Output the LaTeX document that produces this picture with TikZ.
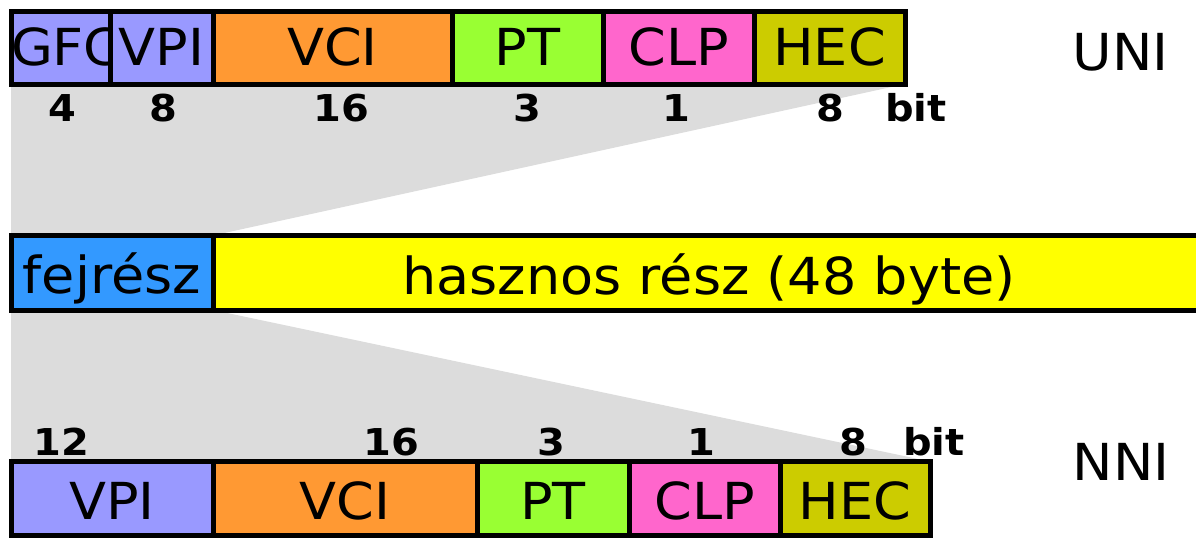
\documentclass[tikz,border=0pt]{standalone}
\usepackage{fontspec}
\setmainfont{DejaVu Sans}[FakeStretch=1.06]
\newfontfamily\numfont{DejaVu Sans}[FakeStretch=1.08]
\usetikzlibrary{backgrounds}
\definecolor{cGFC}{HTML}{9999FF}
\definecolor{cVCI}{HTML}{FF9933}
\definecolor{cPT}{HTML}{99FF33}
\definecolor{cCLP}{HTML}{FF66CC}
\definecolor{cHEC}{HTML}{CCCC00}
\definecolor{cHead}{HTML}{3399FF}
\definecolor{cPay}{HTML}{FFFF00}
\definecolor{cShade}{HTML}{DCDCDC}
\tikzset{
  field/.style={draw=black, line width=5pt, rectangle, inner sep=0pt, outer sep=0pt,
    anchor=west, text depth=0pt, font=\fontsize{51}{51}\selectfont},
  toprow/.style={field, minimum height=73pt, text height=35pt},
  midrow/.style={field, minimum height=74.5pt, text height=42pt},
  botrow/.style={field, minimum height=73.5pt, text height=43pt},
  bits/.style={inner sep=0pt, anchor=base, font=\numfont\bfseries\fontsize{37}{37}\selectfont},
  iface/.style={inner sep=0pt, anchor=base, font=\fontsize{51}{51}\selectfont},
}
\begin{document}
\begin{tikzpicture}[x=1pt, y=-1pt]
\useasboundingbox (0,0) rectangle (1196,538);
\begin{scope}
\clip (0,0) rectangle (1196,538);

% UNI header (top row)
\node[toprow, fill=cGFC, minimum width=99pt]  (ugfc) at (11,47.5)  {GFC};
\node[toprow, fill=cGFC, minimum width=103pt] (uvpi) at (110,47.5) {VPI};
\node[toprow, fill=cVCI, minimum width=239pt] (uvci) at (213,47.5) {VCI};
\node[toprow, fill=cPT,  minimum width=151pt] (upt)  at (452,47.5) {PT};
\node[toprow, fill=cCLP, minimum width=151pt] (uclp) at (603,47.5) {CLP};
\node[toprow, fill=cHEC, minimum width=151pt] (uhec) at (754,47.5) {HEC};

% ATM cell (middle row)
\node[midrow, fill=cHead, minimum width=202pt]  (head) at (11,272.75) {fejrész};
\node[midrow, fill=cPay,  minimum width=1010pt] (pay)  at (213,272.75) {};
\node[iface] (paytext) at (709,294) {hasznos rész (48 byte)};

% NNI header (bottom row)
\node[botrow, fill=cGFC, minimum width=202pt] (nvpi) at (11,498.25)  {VPI};
\node[botrow, fill=cVCI, minimum width=264pt] (nvci) at (213,498.25) {VCI};
\node[botrow, fill=cPT,  minimum width=152pt] (npt)  at (477,498.25) {PT};
\node[botrow, fill=cCLP, minimum width=151pt] (nclp) at (629,498.25) {CLP};
\node[botrow, fill=cHEC, minimum width=150pt] (nhec) at (780,498.25) {HEC};

% shaded wedges from the header rows to the cell header
\begin{pgfonlayer}{background}
  \fill[cShade] (ugfc.south west) -- (uhec.south east) -- (head.north east) -- (head.north west) -- cycle;
  \fill[cShade] (head.south west) -- (head.south east) -- (nhec.north east) -- (nvpi.north west) -- cycle;
\end{pgfonlayer}

% bit widths, UNI
\node[bits] (ub1) at (62,121)  {4};
\node[bits] (ub2) at (163,121) {8};
\node[bits] (ub3) at (341,121) {16};
\node[bits] (ub4) at (527,121) {3};
\node[bits] (ub5) at (676,121) {1};
\node[bits] (ub6) at (830,121) {8};
\node[bits] (ubit) at (916,121) {bit};

% bit widths, NNI
\node[bits] (nb1) at (61,455)  {12};
\node[bits] (nb2) at (391,455) {16};
\node[bits] (nb3) at (551,455) {3};
\node[bits] (nb4) at (701,455) {1};
\node[bits] (nb5) at (853,455) {8};
\node[bits] (nbit) at (934,455) {bit};

% interface names
\node[iface] (uni) at (1120.5,70) {UNI};
\node[iface] (nni) at (1121,480) {NNI};
\end{scope}
\end{tikzpicture}
\end{document}
